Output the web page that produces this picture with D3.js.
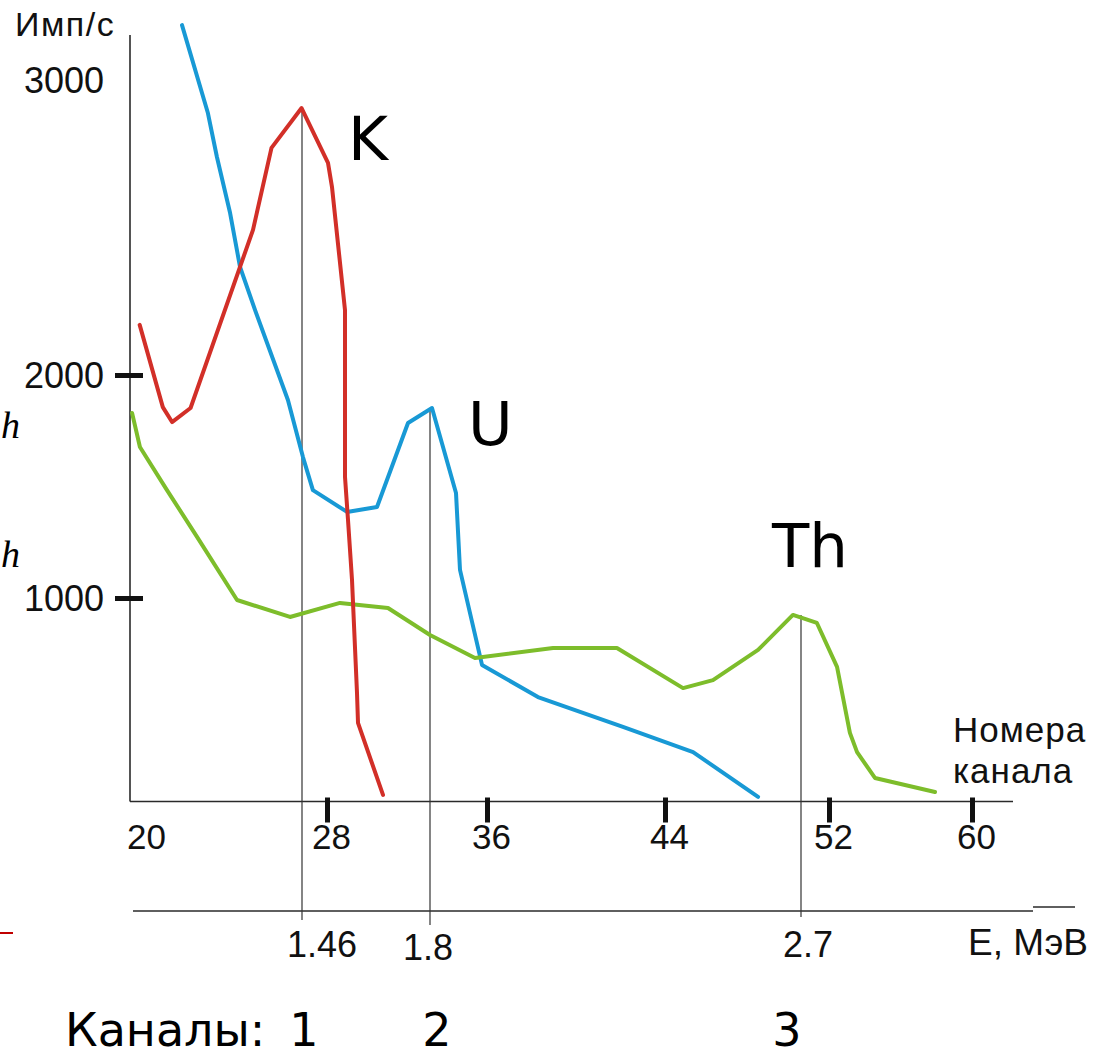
<!DOCTYPE html>
<html>
<head>
<meta charset="utf-8" />
<script src="https://d3js.org/d3.v7.min.js"></script>
<style>
  body { margin: 0; background: #fff; }
  .axis path { display: none; }
  .line { fill: none; stroke-width: 4px; stroke-linejoin: round; stroke-linecap: round; }
  .frame line { stroke: #2a2a2a; stroke-width: 1.6px; }
  .guide { stroke: #333; stroke-width: 1.2px; }
  .sans { font-family: "Liberation Sans", Arial, sans-serif; fill: #111; }
  .big { font-family: "DejaVu Sans", Verdana, sans-serif; fill: #000; }
</style>
</head>
<body>
<svg width="1107" height="1058"></svg>
<script>

// values
var channelTicks = [20, 28, 36, 44, 52, 60];
var countTicks = [1000, 2000, 3000];
var energyTicks = [1.46, 1.8, 2.7];
var peakLabels = ["K", "U", "Th"];
var peakCounts = [2905, 1852, 924];
var windowNumbers = ["1", "2", "3"];

// K (red)
var kChannels = [19.9, 20.9, 21.3, 22.1, 24.8, 25.6, 26.9, 28.05, 28.25, 28.9, 28.9, 29.05, 29.25, 29.5, 29.55, 30.8];
var kCounts   = [2170, 1856, 1789, 1852, 2492, 2770, 2905, 2719, 2637, 2220, 1543, 1350, 1081, 574, 440, 117];

// U (blue)
var uChannels = [21.73, 22.85, 23.24, 23.81, 24.24, 24.89, 26.31, 26.96, 27.39, 29.0, 30.5, 32.05, 33.25, 34.45, 34.65, 35.75, 38.29, 42.11, 45.37, 48.54];
var uCounts   = [3186, 2888, 2739, 2549, 2366, 2220, 1888, 1632, 1484, 1386, 1408, 1785, 1852, 1471, 1126, 700, 556, 422, 309, 108];

// Th (green)
var thChannels = [19.57, 19.91, 21.08, 22.38, 24.11, 26.4, 28.65, 31.05, 33.15, 35.4, 38.97, 41.84, 44.88, 46.34, 48.54, 50.24, 51.41, 52.45, 53.17, 53.57, 54.57, 57.93];
var thCounts   = [1830, 1677, 1484, 1274, 991, 915, 978, 955, 834, 731, 776, 776, 596, 632, 767, 924, 888, 691, 395, 309, 193, 130];

var svg = d3.select("svg");

svg.append("rect")
  .attr("width", "100%")
  .attr("height", "100%")
  .attr("fill", "#fff");

// the drawing is hand made, so the axes are not evenly spaced
var x = d3.scaleLinear().domain(channelTicks).range([142, 327, 487, 665, 829, 972]);
var y = d3.scaleLinear().domain(countTicks).range([598, 375, 80]);
var e = d3.scaleLinear().domain(energyTicks).range([302, 430, 801]);

var x0 = 130, y0 = 801.5, eY = 911;

// frame
var frame = svg.append("g").attr("class", "frame");
frame.append("line").attr("x1", x0).attr("x2", x0).attr("y1", 35).attr("y2", y0);
frame.append("line").attr("x1", x0).attr("x2", 1013).attr("y1", y0).attr("y2", y0);
frame.append("line").attr("x1", 133).attr("x2", 1033).attr("y1", eY).attr("y2", eY);
frame.append("line").attr("x1", 1033).attr("x2", 1075).attr("y1", eY - 4).attr("y2", eY - 4);

// peak guides down to the energy axis
svg.selectAll(".guide")
  .data(energyTicks)
  .enter().append("line")
  .attr("class", "guide")
  .attr("x1", function(d) { return e(d); })
  .attr("x2", function(d) { return e(d); })
  .attr("y1", function(d, i) { return y(peakCounts[i]); })
  .attr("y2", function(d, i) { return [920, 925, 917][i]; });

// channel axis
var xAxis = svg.append("g")
  .attr("class", "axis")
  .attr("transform", "translate(0," + y0 + ")")
  .call(d3.axisBottom(x).tickValues(channelTicks).tickSize(0).tickFormat(d3.format("d")));

xAxis.selectAll(".tick line")
  .attr("y1", -4).attr("y2", 21)
  .attr("stroke", "#111").attr("stroke-width", 5)
  .style("display", function(d) { return d === 20 ? "none" : null; });

xAxis.selectAll(".tick text")
  .attr("class", "sans")
  .attr("y", 47).attr("dy", 0).attr("dx", 4)
  .style("font-size", "35px");

// count axis
var yAxis = svg.append("g")
  .attr("class", "axis")
  .attr("transform", "translate(" + x0 + ",0)")
  .call(d3.axisLeft(y).tickValues(countTicks).tickSize(0).tickFormat(d3.format("d")));

yAxis.selectAll(".tick line")
  .attr("x1", -15).attr("x2", 13)
  .attr("stroke", "#111").attr("stroke-width", 5)
  .style("display", function(d) { return d === 3000 ? "none" : null; });

yAxis.selectAll(".tick text")
  .attr("class", "sans")
  .attr("x", -26).attr("dy", "0.36em")
  .style("font-size", "36px");

svg.append("text").attr("class", "sans")
  .attr("x", 15).attr("y", 36)
  .style("font-size", "34px")
  .style("letter-spacing", "1.5px")
  .text("Имп/с");

svg.append("text").attr("class", "sans")
  .attr("x", 953).attr("y", 742)
  .style("font-size", "35px")
  .style("letter-spacing", "1px")
  .text("Номера");
svg.append("text").attr("class", "sans")
  .attr("x", 953).attr("y", 783)
  .style("font-size", "35px")
  .style("letter-spacing", "1px")
  .text("канала");

// energy labels
var eShift = [20, -2, 7];
svg.selectAll(".elabel")
  .data(energyTicks)
  .enter().append("text")
  .attr("class", "sans elabel")
  .attr("x", function(d, i) { return e(d) + eShift[i]; })
  .attr("y", function(d, i) { return i === 1 ? 960 : 957; })
  .attr("text-anchor", "middle")
  .style("font-size", "36px")
  .text(function(d) { return String(d); });

svg.append("text").attr("class", "sans")
  .attr("x", 968).attr("y", 955)
  .style("font-size", "37px")
  .text("E, МэВ");

// spectra
var line = d3.line()
  .x(function(d) { return x(d[0]); })
  .y(function(d) { return y(d[1]); });

var series = [
  { ch: uChannels, val: uCounts, color: "#1899d5" },
  { ch: thChannels, val: thCounts, color: "#7dbd2b" },
  { ch: kChannels, val: kCounts, color: "#d22f28" }
];

svg.selectAll(".line")
  .data(series)
  .enter().append("path")
  .attr("class", "line")
  .attr("stroke", function(d) { return d.color; })
  .attr("d", function(d) { return line(d3.zip(d.ch, d.val)); });

// element labels next to the peaks
var labelShift = [[46, 52], [38, 37], [-29, -48]];
svg.selectAll(".plabel")
  .data(peakLabels)
  .enter().append("text")
  .attr("class", "big plabel")
  .attr("x", function(d, i) { return e(energyTicks[i]) + labelShift[i][0]; })
  .attr("y", function(d, i) { return y(peakCounts[i]) + labelShift[i][1]; })
  .style("font-size", "61px")
  .text(function(d) { return d; });

// window numbers
svg.append("text").attr("class", "big")
  .attr("x", 65).attr("y", 1046)
  .style("font-size", "46px")
  .text("Каналы:");

var wShift = [2, 7, -14];
svg.selectAll(".wnum")
  .data(windowNumbers)
  .enter().append("text")
  .attr("class", "big wnum")
  .attr("x", function(d, i) { return e(energyTicks[i]) + wShift[i]; })
  .attr("y", 1046)
  .attr("text-anchor", "middle")
  .style("font-size", "46px")
  .text(function(d) { return d; });

// pieces of the slide left at the left edge
svg.append("text")
  .attr("x", 1).attr("y", 438)
  .style("font-family", "'Liberation Serif', serif")
  .style("font-style", "italic")
  .style("font-size", "38px")
  .text("h");
svg.append("text")
  .attr("x", 1).attr("y", 567)
  .style("font-family", "'Liberation Serif', serif")
  .style("font-style", "italic")
  .style("font-size", "38px")
  .text("h");
svg.append("line")
  .attr("x1", 0).attr("x2", 13).attr("y1", 933).attr("y2", 933)
  .attr("stroke", "#c00000").attr("stroke-width", 2);

</script>
</body>
</html>
